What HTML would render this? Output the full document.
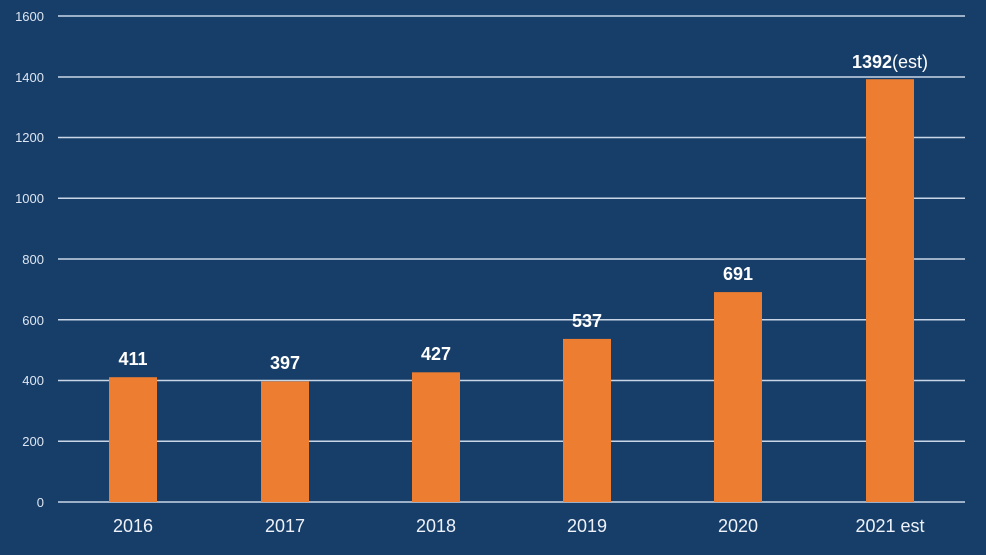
<!DOCTYPE html>
<html><head><style>
html,body{margin:0;padding:0;background:#173e69;}
svg{display:block;}
</style></head><body>
<svg width="986" height="555" xmlns="http://www.w3.org/2000/svg" font-family="Liberation Sans, sans-serif">
<rect width="986" height="555" fill="#173e69"/>
<g stroke="#c9d6e8" stroke-width="1.5">
<line x1="58" x2="965" y1="16" y2="16"/>
<line x1="58" x2="965" y1="77" y2="77"/>
<line x1="58" x2="965" y1="137.5" y2="137.5"/>
<line x1="58" x2="965" y1="198.25" y2="198.25"/>
<line x1="58" x2="965" y1="259" y2="259"/>
<line x1="58" x2="965" y1="319.75" y2="319.75"/>
<line x1="58" x2="965" y1="380.5" y2="380.5"/>
<line x1="58" x2="965" y1="441.25" y2="441.25"/>
<line x1="58" x2="965" y1="502" y2="502"/>
</g>
<g fill="#dde6f2" font-size="13" text-anchor="end">
<text x="44" y="21">1600</text>
<text x="44" y="82">1400</text>
<text x="44" y="142">1200</text>
<text x="44" y="203">1000</text>
<text x="44" y="264">800</text>
<text x="44" y="325">600</text>
<text x="44" y="385">400</text>
<text x="44" y="446">200</text>
<text x="44" y="507">0</text>
</g>
<g fill="#ed7d31">
<rect x="109" y="377.2" width="48" height="124.8"/>
<rect x="261" y="381.4" width="48" height="120.6"/>
<rect x="412" y="372.3" width="48" height="129.7"/>
<rect x="563" y="338.9" width="48" height="163.1"/>
<rect x="714" y="292.1" width="48" height="209.9"/>
<rect x="866" y="79.2" width="48" height="422.8"/>
</g>
<g fill="#ffffff" font-size="18" font-weight="bold" text-anchor="middle">
<text x="133" y="365">411</text>
<text x="285" y="369">397</text>
<text x="436" y="360">427</text>
<text x="587" y="327">537</text>
<text x="738" y="280">691</text>
<text x="890" y="68">1392<tspan font-weight="normal">(est)</tspan></text>
</g>
<g fill="#eef2f8" font-size="18" text-anchor="middle">
<text x="133" y="532">2016</text>
<text x="285" y="532">2017</text>
<text x="436" y="532">2018</text>
<text x="587" y="532">2019</text>
<text x="738" y="532">2020</text>
<text x="890" y="532">2021 est</text>
</g>
</svg>
</body></html>
